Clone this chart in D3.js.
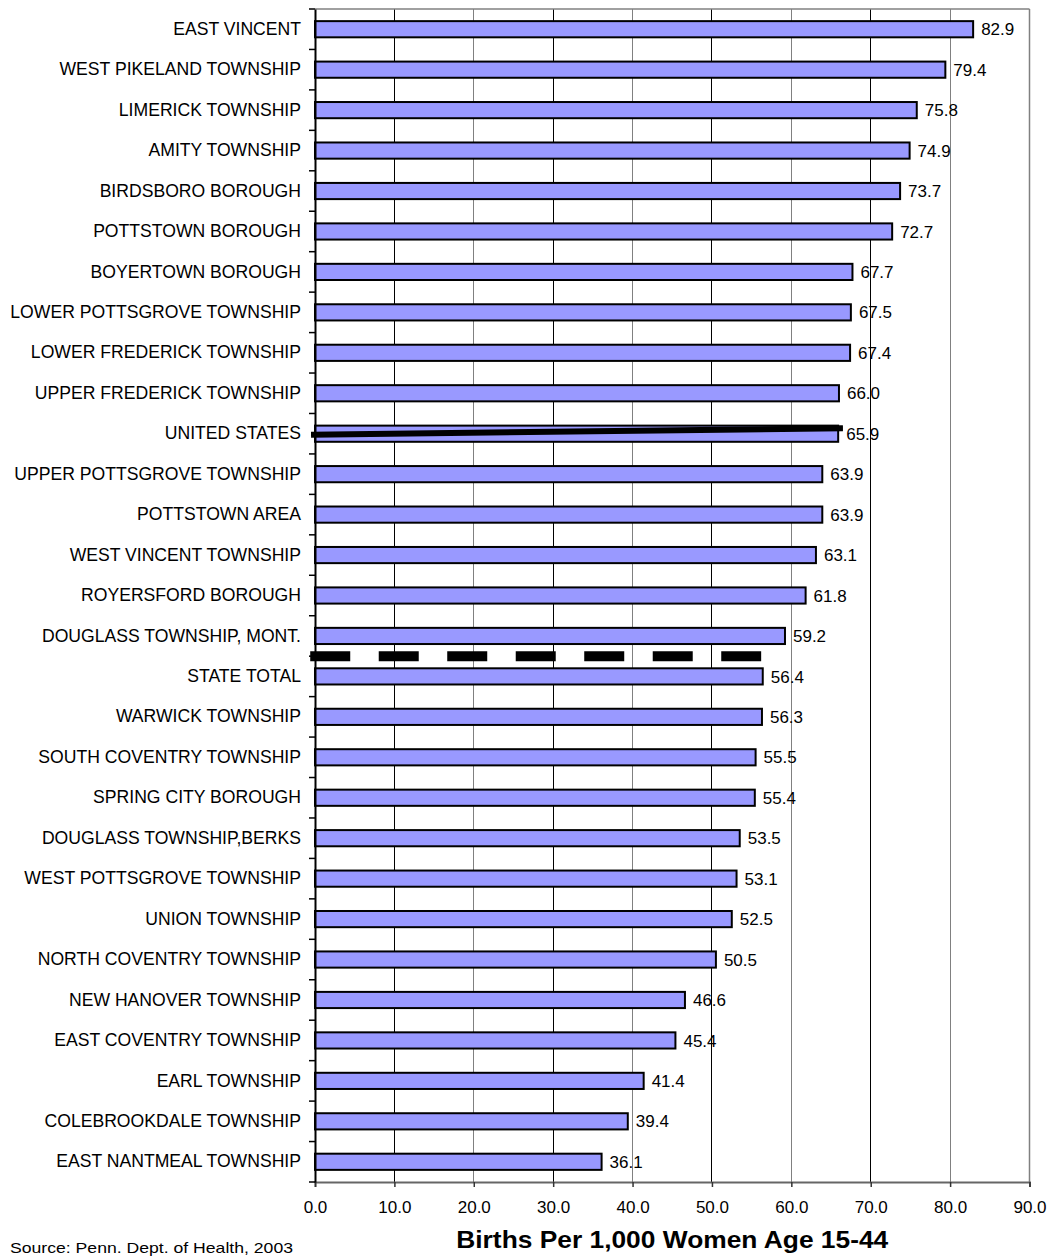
<!DOCTYPE html>
<html>
<head>
<meta charset="utf-8">
<script src="https://cdn.jsdelivr.net/npm/d3@7"></script>
<style>
  html, body { margin: 0; padding: 0; background: #fff; }
  svg { display: block; font-family: "Liberation Sans", Arial, sans-serif; }
</style>
</head>
<body>
<svg id="chart" width="1055" height="1258"></svg>
<script>
const categories = [
  "EAST VINCENT", "WEST PIKELAND TOWNSHIP", "LIMERICK TOWNSHIP", "AMITY TOWNSHIP",
  "BIRDSBORO BOROUGH", "POTTSTOWN BOROUGH", "BOYERTOWN BOROUGH", "LOWER POTTSGROVE TOWNSHIP",
  "LOWER FREDERICK TOWNSHIP", "UPPER FREDERICK TOWNSHIP", "UNITED STATES", "UPPER POTTSGROVE TOWNSHIP",
  "POTTSTOWN AREA", "WEST VINCENT TOWNSHIP", "ROYERSFORD BOROUGH", "DOUGLASS TOWNSHIP, MONT.",
  "STATE TOTAL", "WARWICK TOWNSHIP", "SOUTH COVENTRY TOWNSHIP", "SPRING CITY BOROUGH",
  "DOUGLASS TOWNSHIP,BERKS", "WEST POTTSGROVE TOWNSHIP", "UNION TOWNSHIP", "NORTH COVENTRY TOWNSHIP",
  "NEW HANOVER TOWNSHIP", "EAST COVENTRY TOWNSHIP", "EARL TOWNSHIP", "COLEBROOKDALE TOWNSHIP",
  "EAST NANTMEAL TOWNSHIP"
];
const values = [
  82.9, 79.4, 75.8, 74.9, 73.7, 72.7, 67.7, 67.5, 67.4, 66.0, 65.9, 63.9, 63.9, 63.1, 61.8, 59.2,
  56.4, 56.3, 55.5, 55.4, 53.5, 53.1, 52.5, 50.5, 46.6, 45.4, 41.4, 39.4, 36.1
];
const xTicks = [0, 10, 20, 30, 40, 50, 60, 70, 80, 90];
const xTitle = "Births Per 1,000 Women Age 15-44";
const sourceNote = "Source:  Penn. Dept. of Health, 2003";
// reference markers: United States (solid, slanted) and State total (dashed)
const usLine = { category: "UNITED STATES", from: -0.5, to: 66.5 };
const stateLine = { above: "STATE TOTAL", from: -0.6, to: 56.2 };

const svg = d3.select("#chart");
const plot = { left: 315, right: 1029.5, top: 9, bottom: 1182 };

const x = d3.scaleLinear().domain([0, 90]).range([plot.left, plot.right]);
const y = d3.scaleBand().domain(categories).range([plot.top, plot.bottom]).paddingInner(0.6).paddingOuter(0.3);
const band = d3.scaleBand().domain(categories).range([plot.top, plot.bottom]).padding(0);

// gridlines
svg.append("g").selectAll("line").data(xTicks.filter(d => d > 0 && d < 90)).join("line")
  .attr("x1", d => x(d)).attr("x2", d => x(d))
  .attr("y1", plot.top).attr("y2", plot.bottom)
  .attr("stroke", d => (d / 10) % 2 === 1 ? "#000" : "#808080")
  .attr("stroke-width", 1).attr("shape-rendering", "crispEdges");

// plot border (top/right gray)
svg.append("line").attr("x1", plot.left).attr("x2", plot.right).attr("y1", plot.top).attr("y2", plot.top)
  .attr("stroke", "#808080").attr("stroke-width", 1.5);
svg.append("line").attr("x1", plot.right).attr("x2", plot.right).attr("y1", plot.top).attr("y2", plot.bottom)
  .attr("stroke", "#808080").attr("stroke-width", 1.5);

// bars
svg.append("g").selectAll("rect").data(values).join("rect")
  .attr("x", x(0))
  .attr("y", (d, i) => y(categories[i]))
  .attr("width", d => x(d) - x(0))
  .attr("height", y.bandwidth())
  .attr("fill", "#9999FF")
  .attr("stroke", "#000").attr("stroke-width", 2);

// value labels
svg.append("g").selectAll("text").data(values).join("text")
  .attr("x", d => x(d) + 8)
  .attr("y", (d, i) => y(categories[i]) + y.bandwidth() / 2)
  .attr("dy", "0.36em")
  .attr("font-size", 17).attr("fill", "#000")
  .text(d => d.toFixed(1));

// bottom axis
const xAxis = svg.append("g").attr("transform", `translate(0,${plot.bottom})`)
  .call(d3.axisBottom(x).tickValues(xTicks).tickFormat(d3.format(".1f")).tickSizeOuter(0).tickSize(5).tickPadding(14));
xAxis.select(".domain").attr("stroke", "#666").attr("stroke-width", 2);
xAxis.selectAll(".tick line").attr("stroke", "#333").attr("stroke-width", 1.5);
xAxis.selectAll(".tick text").attr("font-size", 17).attr("font-family", "Liberation Sans, Arial, sans-serif").attr("fill", "#000");

// left axis: labels at band centers, ticks at band boundaries
const yAxis = svg.append("g").attr("transform", `translate(${plot.left},0)`)
  .call(d3.axisLeft(band).tickSize(0).tickPadding(14));
yAxis.select(".domain").attr("stroke", "#000").attr("stroke-width", 2);
yAxis.selectAll(".tick text").attr("font-size", 17.6).attr("font-family", "Liberation Sans, Arial, sans-serif").attr("fill", "#000");
const boundaries = categories.map(c => band(c)).concat([band(categories[categories.length - 1]) + band.bandwidth()]);
svg.append("g").selectAll("line").data(boundaries).join("line")
  .attr("x1", plot.left - 6).attr("x2", plot.left)
  .attr("y1", d => d).attr("y2", d => d)
  .attr("stroke", "#000").attr("stroke-width", 1.5);

// United States reference line (slanted thick)
const usC = band(usLine.category) + band.bandwidth() / 2;
svg.append("line")
  .attr("x1", x(usLine.from)).attr("y1", usC + 1)
  .attr("x2", x(usLine.to)).attr("y2", usC - 5.5)
  .attr("stroke", "#000").attr("stroke-width", 6);

// State total dashed reference line
const stY = band(stateLine.above);
svg.append("line")
  .attr("x1", x(stateLine.from)).attr("x2", x(stateLine.to))
  .attr("y1", stY).attr("y2", stY)
  .attr("stroke", "#000").attr("stroke-width", 10)
  .attr("stroke-dasharray", "40,28.5");

// axis title
svg.append("text")
  .attr("x", (plot.left + plot.right) / 2).attr("y", 1248)
  .attr("text-anchor", "middle").attr("font-size", 24).attr("font-weight", "bold")
  .attr("textLength", 432).attr("lengthAdjust", "spacingAndGlyphs")
  .text(xTitle);

// source note
svg.append("text")
  .attr("x", 10).attr("y", 1253)
  .attr("font-size", 15)
  .attr("textLength", 283).attr("lengthAdjust", "spacingAndGlyphs")
  .text(sourceNote);
</script>
</body>
</html>
